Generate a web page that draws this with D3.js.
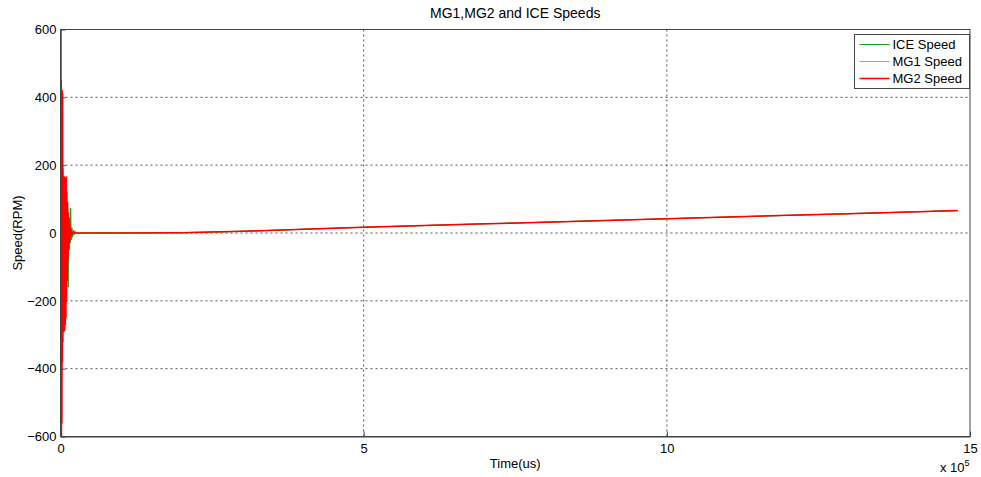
<!DOCTYPE html>
<html>
<head>
  <meta charset="utf-8">
  <title>MG1,MG2 and ICE Speeds</title>
  <script src="https://d3js.org/d3.v7.min.js"></script>
  <style>
    body { margin: 0; background: #fff; }
    text { font-family: 'Liberation Sans', Arial, sans-serif; fill: #000; }
    .grid line { stroke: #555; stroke-dasharray: 2,3; }
    .axis path, .axis line { stroke: #444; }
  </style>
</head>
<body>
<div id="chart"></div>
<script>
  // transient part of each speed trace (time in us, speed in RPM)
  const mg2T = [0, 400, 800, 1200, 1600, 2000, 2400, 2800, 3200, 3600, 4000,
    4500, 5000, 5500, 6000, 6500, 7000, 7500, 8000, 8500, 9000, 9500, 10000,
    10600, 11200, 11800, 12400, 13000, 13600, 14200, 14800, 15400, 16000,
    17000, 18000, 20000, 23000, 30000];
  const mg2V = [0, 620, -520, 450, -610, 410, -560, 420, -380, 410, -320,
    165, -290, 160, -290, 165, -285, 160, -270, 150, -250, 165, -200,
    120, -140, 90, -80, 60, -50, 45, -30, 25, -15,
    10, -5, 2, 1, 0];

  const iceT = [0, 800, 1600, 2400, 3200, 4000, 4800, 5600, 6400, 7200, 8000, 8800,
    9600, 10400, 11200, 12000, 12600, 13400, 14200, 15000, 15800, 16800, 17800, 18800,
    20000, 21200, 22500, 24000, 26000, 28000, 31000, 35000];
  const iceV = [0, 180, -380, 200, -300, 190, -250, 150, -200, 100, -150, 75,
    -120, 70, -60, 50, -160, 30, -50, 20, -30, 73, -20, 15,
    -12, 8, -6, 4, -3, 2, -1, 0];

  const mg1T = [0, 300, 600, 1000, 1400, 2000, 2600, 3400, 4200, 5600, 7000, 9000, 11000, 14000,
    18000, 23000, 29000, 36000];
  const mg1V = [0, -700, -300, 150, -350, 180, -280, 150, -220, 120, -150, 70, -80, 40,
    -20, 8, -2, 0];

  // slow part shared by all three traces
  const steadyT = [40000, 100000, 200000, 300000, 400000, 500000, 600000, 700000, 800000,
    900000, 1000000, 1100000, 1200000, 1300000, 1400000, 1480000];
  const steadyV = [0, 0, 1, 5, 11, 17, 22, 27, 32, 37, 42, 47, 52, 57, 62, 66];

  const xTicks = [0, 500000, 1000000, 1500000];
  const yTicks = [-600, -400, -200, 0, 200, 400, 600];

  const series = [
    { name: "ICE Speed", color: "#1a9a1a", width: 1, t: iceT.concat(steadyT), v: iceV.concat(steadyV) },
    { name: "MG1 Speed", color: "#7fbf7f", width: 1, t: mg1T.concat(steadyT), v: mg1V.concat(steadyV) },
    { name: "MG2 Speed", color: "#ff0000", width: 1.5, t: mg2T.concat(steadyT), v: mg2V.concat(steadyV) }
  ];

  const W = 981, H = 477;
  const margin = { top: 29.5, right: 11, bottom: 40.5, left: 60.5 };
  const width = W - margin.left - margin.right,
    height = H - margin.top - margin.bottom;

  const svg = d3.select("#chart").append("svg")
    .attr("width", W).attr("height", H);

  const g = svg.append("g")
    .attr("transform", "translate(" + margin.left + "," + margin.top + ")");

  const x = d3.scaleLinear().domain([0, 1500000]).range([0, width]);
  const y = d3.scaleLinear().domain([-600, 600]).range([height, 0]);

  // grid
  g.append("g").attr("class", "grid")
    .selectAll("line").data(xTicks.slice(1, -1)).join("line")
    .attr("x1", d => x(d)).attr("x2", d => x(d))
    .attr("y1", 0).attr("y2", height);
  g.append("g").attr("class", "grid")
    .selectAll("line").data(yTicks.slice(1, -1)).join("line")
    .attr("x1", 0).attr("x2", width)
    .attr("y1", d => y(d)).attr("y2", d => y(d));

  g.append("clipPath").attr("id", "clip")
    .append("rect").attr("width", width).attr("height", height);

  const line = d3.line()
    .x(d => x(d[0]))
    .y(d => y(d[1]));

  const lines = g.append("g").attr("clip-path", "url(#clip)");
  // draw MG1 first, then ICE, then MG2 on top
  [series[1], series[0], series[2]].forEach(s => {
    lines.append("path")
      .datum(s.t.map((t, i) => [t, s.v[i]]))
      .attr("fill", "none")
      .attr("stroke", s.color)
      .attr("stroke-width", s.width)
      .attr("stroke-linejoin", "round")
      .attr("d", line);
  });

  // axes
  const xAxis = d3.axisBottom(x).tickValues(xTicks).tickFormat(d => d / 100000)
    .tickSizeInner(-5).tickSizeOuter(0).tickPadding(10);
  const yAxis = d3.axisLeft(y).tickValues(yTicks).tickFormat(d3.format("d"))
    .tickSizeInner(-5).tickSizeOuter(0).tickPadding(4);

  g.append("g").attr("class", "axis")
    .attr("transform", "translate(0," + height + ")")
    .call(xAxis)
    .call(a => a.selectAll("text").attr("font-size", 13).attr("dy", "0.5em"));
  g.append("g").attr("class", "axis")
    .call(yAxis)
    .call(a => a.selectAll("text").attr("font-size", 13));

  // box
  g.append("rect")
    .attr("width", width).attr("height", height)
    .attr("fill", "none").attr("stroke", "#444");

  // title and labels
  svg.append("text")
    .attr("x", margin.left + width / 2).attr("y", 18)
    .attr("text-anchor", "middle").attr("font-size", 14)
    .text("MG1,MG2 and ICE Speeds");
  svg.append("text")
    .attr("x", margin.left + width / 2).attr("y", 468)
    .attr("text-anchor", "middle").attr("font-size", 13)
    .text("Time(us)");
  svg.append("text")
    .attr("transform", "translate(22," + (margin.top + height / 2) + ") rotate(-90)")
    .attr("text-anchor", "middle").attr("font-size", 13)
    .text("Speed(RPM)");

  const exp = svg.append("text")
    .attr("x", 940).attr("y", 472).attr("font-size", 13);
  exp.append("tspan").text("x 10");
  exp.append("tspan").attr("dy", -6).attr("font-size", 9).text("5");

  // legend
  const lg = svg.append("g").attr("transform", "translate(854.5,34.5)");
  lg.append("rect").attr("width", 115).attr("height", 54)
    .attr("fill", "#fff").attr("stroke", "#444");
  series.forEach((s, i) => {
    const yy = 10 + i * 17;
    lg.append("line")
      .attr("x1", 5).attr("x2", 35).attr("y1", yy).attr("y2", yy)
      .attr("stroke", s.color).attr("stroke-width", s.width);
    lg.append("text")
      .attr("x", 38).attr("y", yy + 4.5).attr("font-size", 13)
      .text(s.name);
  });
</script>
</body>
</html>
